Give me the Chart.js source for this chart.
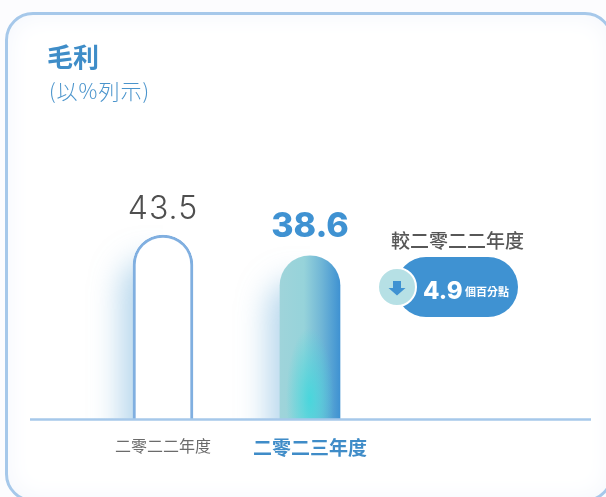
<!DOCTYPE html>
<html lang="zh-Hant">
<head>
<meta charset="utf-8">
<script src="https://cdn.jsdelivr.net/npm/chart.js@4"></script>
<style>
  html, body { margin: 0; padding: 0; width: 606px; height: 497px; overflow: hidden; background: #fcfcfe; }
  body { font-family: "Noto Sans CJK TC", sans-serif; position: relative; }
  .card { position: absolute; left: 5px; top: 12px; width: 608px; height: 490px; box-sizing: border-box;
    border: 3px solid #a6c8ea; border-radius: 28px; background: #fff; box-shadow: inset 0 0 26px #f3f6fc; }
  canvas { position: absolute; left: 0; top: 0; }
  .t { position: absolute; white-space: nowrap; line-height: 1; }
  #title { left: 47px; top: 43px; font-size: 26px; font-weight: 700; color: #3f8dc8; }
  #unit { left: 49px; top: 80px; font-size: 21px; font-weight: 300; color: #4a94cc; letter-spacing: 1px; }
  #compare { left: 391px; top: 230px; font-size: 19px; font-weight: 500; color: #575757; }
  #pill { position: absolute; left: 396px; top: 257px; width: 122px; height: 60px; border-radius: 30px; background: #3f92d2; }
  #delta { left: 423px; top: 276px; font: 800 24px Inter, sans-serif; color: #fff; }
  #deltaUnit { left: 465px; top: 286px; font-size: 11px; font-weight: 700; color: #fff; }
  #arrow { position: absolute; left: 377px; top: 267px; }
</style>
</head>
<body>
<div class="card"></div>
<canvas id="margin-chart" width="606" height="497"></canvas>
<div class="t" id="title">毛利</div>
<div class="t" id="unit">(以%列示)</div>
<div class="t" id="compare">較二零二二年度</div>
<div id="pill"></div>
<svg id="arrow" width="40" height="40" viewBox="0 0 40 40">
  <circle cx="20" cy="20" r="19" fill="#b6e0e5" stroke="#fff" stroke-width="2"/>
  <path d="M16 14h8v7h4.5L20 28.5 11.5 21H16z" fill="#3f92d2"/>
</svg>
<div class="t" id="delta">4.9</div>
<div class="t" id="deltaUnit">個百分點</div>
<script>
const years = ['二零二二年度', '二零二三年度'];
const margins = [43.5, 38.6];
const valueLabels = ['43.5', '38.6'];

// 棒の左側にぼかしの影を付ける
const glowPlugin = {
  id: 'glow',
  beforeDatasetsDraw(chart) {
    const { ctx, scales } = chart;
    const bottom = scales.y.getPixelForValue(0);
    chart.getDatasetMeta(0).data.forEach(bar => {
      ctx.save();
      ctx.beginPath();
      ctx.rect(bar.x - 110, bar.y - 60, 110, bottom - bar.y + 60);
      ctx.clip();
      ctx.shadowColor = 'rgba(110,175,220,0.5)';
      ctx.shadowBlur = 30;
      ctx.shadowOffsetX = -12;
      ctx.shadowOffsetY = 24;
      ctx.fillStyle = '#fff';
      ctx.beginPath();
      ctx.roundRect(bar.x - 30, bar.y, 60, bottom - bar.y + 40, [30, 30, 0, 0]);
      ctx.fill();
      ctx.restore();
    });
  },
  afterDatasetsDraw(chart) {
    const { ctx, scales } = chart;
    const bottom = scales.y.getPixelForValue(0);
    const bar = chart.getDatasetMeta(0).data[1];
    // 2本目の棒の下部の明るい部分
    ctx.save();
    ctx.beginPath();
    ctx.roundRect(bar.x - 30, bar.y, 60, bottom - bar.y, [30, 30, 0, 0]);
    ctx.clip();
    ctx.translate(bar.x, bottom - 20);
    ctx.scale(1, 3);
    const spot = ctx.createRadialGradient(0, 0, 0, 0, 0, 24);
    spot.addColorStop(0, 'rgba(70,215,220,0.95)');
    spot.addColorStop(1, 'rgba(70,215,220,0)');
    ctx.fillStyle = spot;
    ctx.fillRect(-30, -40, 60, 60);
    ctx.restore();

    // 基準線
    ctx.save();
    ctx.strokeStyle = '#a6c8ea';
    ctx.lineWidth = 2.5;
    ctx.beginPath();
    ctx.moveTo(30, bottom);
    ctx.lineTo(591, bottom);
    ctx.stroke();
    ctx.restore();

    // 棒の上の数値
    ctx.save();
    ctx.textAlign = 'center';
    ctx.textBaseline = 'alphabetic';
    chart.getDatasetMeta(0).data.forEach((b, i) => {
      ctx.font = i === 0 ? '300 32px Inter, sans-serif' : '800 34px Inter, sans-serif';
      ctx.letterSpacing = i === 0 ? '1px' : '0px';
      ctx.fillStyle = i === 0 ? '#4f4f4f' : '#3f92d2';
      ctx.fillText(valueLabels[i], b.x, b.y - (i === 0 ? 16 : 19));
    });
    ctx.restore();
  }
};

function barFill(c) {
  const chart = c.chart;
  if (!chart.chartArea) return '#fff';
  if (c.dataIndex === 0) return '#fff';
  const x = chart.scales.x.getPixelForValue(1);
  const g = chart.ctx.createLinearGradient(x - 30, 0, x + 30, 0);
  g.addColorStop(0, '#9fd4da');
  g.addColorStop(0.4, '#96d3da');
  g.addColorStop(0.7, '#6fb5d6');
  g.addColorStop(1, '#3f92d2');
  return g;
}

new Chart(document.getElementById('margin-chart'), {
  type: 'bar',
  data: {
    labels: years,
    datasets: [{
      data: margins,
      backgroundColor: barFill,
      borderColor: ['#80afe0', 'rgba(0,0,0,0)'],
      borderWidth: [3, 0],
      borderSkipped: 'bottom',
      borderRadius: { topLeft: 30, topRight: 30 },
      barThickness: 60
    }]
  },
  options: {
    responsive: false,
    animation: false,
    layout: { padding: { left: 89.5, right: 222.5, top: 207.4, bottom: 28.7 } },
    plugins: { legend: { display: false }, tooltip: { enabled: false }, title: { display: false } },
    scales: {
      x: {
        grid: { display: false },
        border: { display: false },
        ticks: {
          padding: 9,
          maxRotation: 0,
          autoSkip: false,
          color: c => c.index === 0 ? '#6b6b6b' : '#3f8cc8',
          font: c => c.index === 0
            ? { family: '"Noto Sans CJK TC"', size: 16, weight: 400 }
            : { family: '"Noto Sans CJK TC"', size: 19, weight: 700 }
        }
      },
      y: { display: false, min: 0, max: 50 }
    }
  },
  plugins: [glowPlugin]
});
</script>
</body>
</html>
